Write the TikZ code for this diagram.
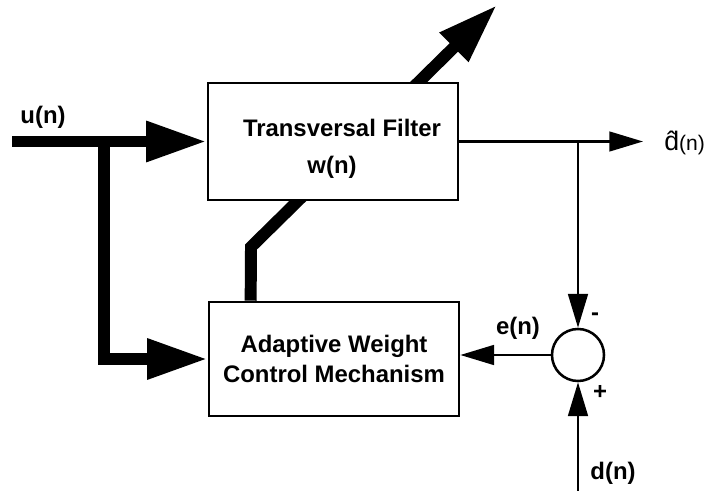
\documentclass[tikz,border=0pt]{standalone}
\usepackage{fontspec}
\setmainfont{Liberation Sans}
\usetikzlibrary{positioning,calc,arrows.meta}
\tikzset{>={Latex}}

\begin{document}
\begin{tikzpicture}[x=0.025cm, y=-0.025cm, line join=miter,
  block/.style={draw, fill=white, line width=1.8pt, minimum width=6.25cm,
    align=center, font=\fontsize{17}{20}\selectfont\bfseries},
  lbl/.style={font=\fontsize{17}{20}\selectfont\bfseries, inner sep=0pt},
  sigline/.style={line width=1.8pt, -{Triangle[length=24pt,width=14pt]}},
  busline/.style={line width=8.5pt, -{Triangle[length=43pt,width=27pt]}}]
  \useasboundingbox (0,0) rectangle (712,491);

  % Blocks
  \node[block, minimum height=2.85cm] (adapt) at (334,359)
    {Adaptive Weight\\[1pt]Control Mechanism};
  \node[draw, circle, line width=1.8pt, minimum size=1.3cm, inner sep=0pt]
    (sum) at (578,355) {};

  % Weight update (runs behind the filter)
  \coordinate (wbase) at ($(adapt.north west)!0.17!(adapt.north east)$);
  \coordinate (wbend) at (251,247);
  \coordinate (wtip)  at (497,5);
  \draw[busline] (wbase) -- (wbend) -- (wtip);

  \node[block, minimum height=2.925cm] (filter) at (333,141.5) {};
  \node[lbl] (tf) at (342,128) {Transversal Filter};
  \node[lbl] (w)  at (332,167) {w(n)};

  % Input
  \coordinate (in)    at (12,141.5);
  \coordinate (split) at (104,141.5);
  \draw[busline] (in) -- (filter.west);
  \draw[busline] (split) |- (adapt.west);

  % Output and error
  \coordinate (out)  at (643,141.5);
  \coordinate (tap)  at (sum.north |- filter.east);
  \coordinate (dsrc) at (578,491);
  \draw[sigline] (filter.east) -- (out);
  \draw[sigline] (tap) -- (sum.north);
  \draw[sigline] (sum.west) -- (sum.west -| adapt.east);
  \draw[sigline] (dsrc) -- (sum.south);

  % Labels
  \node[lbl] (u)     at (43,117)  {u(n)};
  \node[lbl] (e)     at (518,328) {e(n)};
  \node[lbl] (d)     at (613,473) {d(n)};
  \node[lbl] (minus) at (595,317) {-};
  \node[lbl] (plus)  at (600,392) {+};
  \node[inner sep=0pt, anchor=west] (dhat) at (664,143)
    {{\fontsize{19}{22}\selectfont\^{d}}{\fontsize{15}{18}\selectfont(n)}};
\end{tikzpicture}
\end{document}
